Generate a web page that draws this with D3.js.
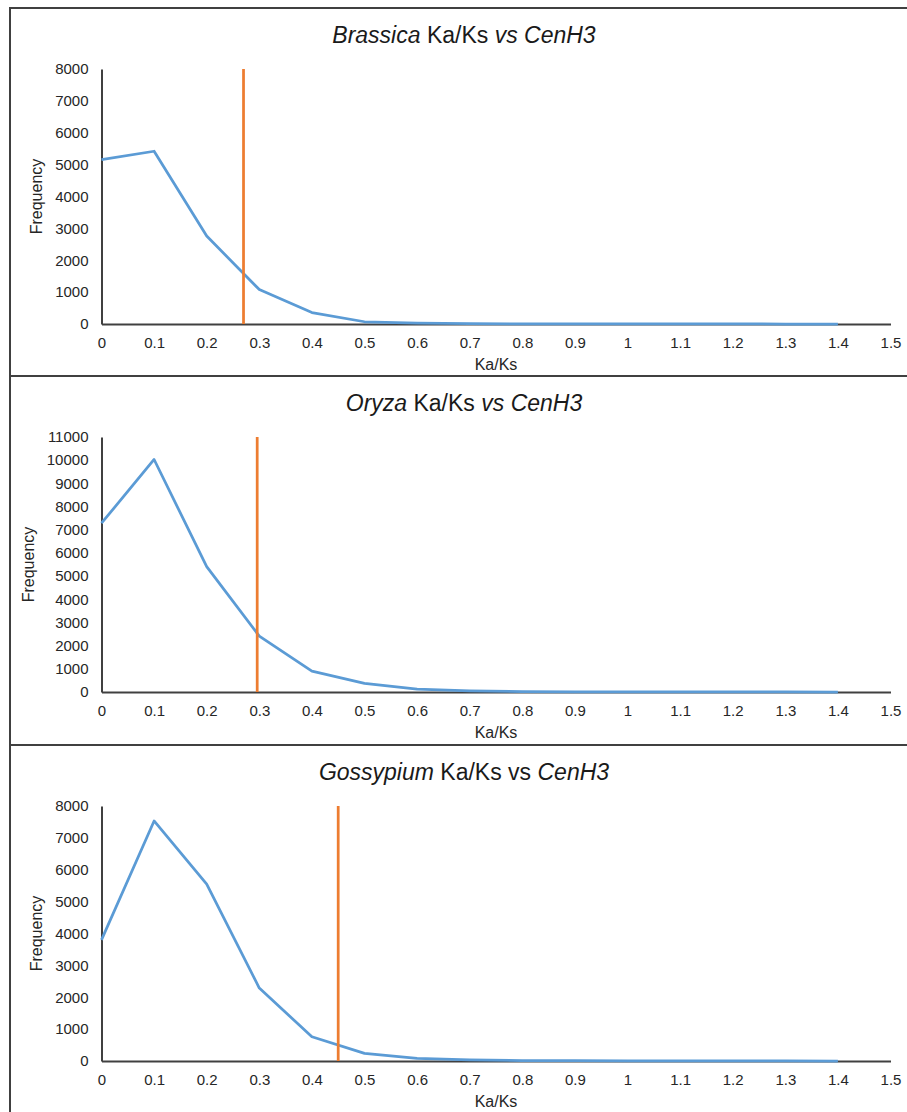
<!DOCTYPE html>
<html>
<head>
<meta charset="utf-8">
<script src="https://cdn.jsdelivr.net/npm/d3@7"></script>
<style>
  html, body { margin: 0; padding: 0; background: #fff; }
  svg { display: block; }
</style>
</head>
<body>
<svg id="chart" width="907" height="1112"></svg>
<script>
// ---- data ----
const kaKsValues = [0, 0.1, 0.2, 0.3, 0.4, 0.5, 0.6, 0.7, 0.8, 0.9, 1.0, 1.1, 1.2, 1.3, 1.4];
const xTickValues = [0, 0.1, 0.2, 0.3, 0.4, 0.5, 0.6, 0.7, 0.8, 0.9, 1.0, 1.1, 1.2, 1.3, 1.4, 1.5];
const xTickLabels = ["0", "0.1", "0.2", "0.3", "0.4", "0.5", "0.6", "0.7", "0.8", "0.9", "1", "1.1", "1.2", "1.3", "1.4", "1.5"];

const brassicaFreq  = [5160, 5420, 2760, 1080, 360, 70, 30, 12, 6, 4, 2, 1, 1, 0, 0];
const oryzaFreq     = [7280, 10030, 5410, 2410, 900, 370, 120, 45, 20, 10, 5, 3, 2, 1, 0];
const gossypiumFreq = [3800, 7530, 5550, 2290, 760, 240, 85, 35, 15, 8, 4, 2, 1, 1, 0];

const cenH3KaKs = [0.27, 0.296, 0.45];
const yMaxima = [8000, 11000, 8000];

const titleParts = [
  [["Brassica", true], [" Ka/Ks ", false], ["vs", true], [" ", false], ["CenH3", true]],
  [["Oryza", true], [" Ka/Ks ", false], ["vs", true], [" ", false], ["CenH3", true]],
  [["Gossypium", true], [" Ka/Ks vs ", false], ["CenH3", true]]
];
const series = [brassicaFreq, oryzaFreq, gossypiumFreq];

// ---- layout ----
const FONT = "'Liberation Sans', Arial, sans-serif";
const svg = d3.select("#chart");
const frameLeft = 10, frameRight = 918;
const panelTops = [8, 376, 745];
const panelH = 369;
const plotLeft = 101.5, plotRight = 890.5;
const plotTopOff = 61, plotBottomOff = 316;

const x = d3.scaleLinear().domain([0, 1.5]).range([plotLeft, plotRight]);

// frame
svg.append("rect")
  .attr("x", frameLeft).attr("y", panelTops[0])
  .attr("width", frameRight - frameLeft).attr("height", 1200)
  .attr("fill", "none").attr("stroke", "#404040").attr("stroke-width", 2);
panelTops.slice(1).forEach(t => {
  svg.append("line").attr("x1", frameLeft).attr("x2", frameRight)
    .attr("y1", t).attr("y2", t).attr("stroke", "#404040").attr("stroke-width", 2);
});

series.forEach((vals, i) => {
  const top = panelTops[i];
  const g = svg.append("g");
  const y = d3.scaleLinear().domain([0, yMaxima[i]]).range([top + plotBottomOff, top + plotTopOff]);

  // title
  const title = g.append("text")
    .attr("x", (frameLeft + frameRight) / 2).attr("y", top + 35)
    .attr("text-anchor", "middle")
    .attr("font-family", FONT).attr("font-size", 23).attr("fill", "#1a1a1a");
  titleParts[i].forEach(([t, it]) => {
    title.append("tspan").attr("font-style", it ? "italic" : "normal")
      .style("white-space", "pre").text(t);
  });
  title.attr("xml:space", "preserve");

  // y axis
  const yAxis = d3.axisLeft(y).tickValues(d3.range(0, yMaxima[i] + 1, 1000))
    .tickFormat(d3.format("d")).tickSize(0).tickPadding(13);
  const yg = g.append("g").attr("transform", `translate(${plotLeft},0)`).call(yAxis);
  yg.select(".domain").attr("stroke", "#404040").attr("stroke-width", 2);
  yg.selectAll("text").attr("font-family", FONT).attr("font-size", 15).attr("fill", "#262626");

  // x axis
  const xAxis = d3.axisBottom(x).tickValues(xTickValues)
    .tickFormat((d, k) => xTickLabels[k]).tickSize(0).tickPadding(13);
  const xg = g.append("g").attr("transform", `translate(0,${top + plotBottomOff})`).call(xAxis);
  xg.select(".domain").attr("stroke", "#404040").attr("stroke-width", 2);
  xg.selectAll("text").attr("font-family", FONT).attr("font-size", 15).attr("fill", "#262626");

  // measure tick label widths for y title placement
  let maxW = 0;
  yg.selectAll("text").each(function () { maxW = Math.max(maxW, this.getBBox().width); });
  const yTitleX = plotLeft - 13 - maxW - 13;

  g.append("text")
    .attr("transform", `translate(${yTitleX},${top + (plotTopOff + plotBottomOff) / 2}) rotate(-90)`)
    .attr("text-anchor", "middle")
    .attr("font-family", FONT).attr("font-size", 16).attr("fill", "#262626")
    .text("Frequency");

  g.append("text")
    .attr("x", (plotLeft + plotRight) / 2).attr("y", top + plotBottomOff + 46)
    .attr("text-anchor", "middle")
    .attr("font-family", FONT).attr("font-size", 16).attr("fill", "#262626")
    .text("Ka/Ks");

  // frequency line
  const line = d3.line().x((d, k) => x(kaKsValues[k])).y(d => y(d));
  g.append("path").datum(vals)
    .attr("d", line).attr("fill", "none")
    .attr("stroke", "#5B9BD5").attr("stroke-width", 2.75)
    .attr("stroke-linejoin", "round");

  // CenH3 cutoff
  g.append("line")
    .attr("x1", x(cenH3KaKs[i])).attr("x2", x(cenH3KaKs[i]))
    .attr("y1", y(yMaxima[i])).attr("y2", y(0))
    .attr("stroke", "#ED7D31").attr("stroke-width", 2.75);
});
</script>
</body>
</html>
